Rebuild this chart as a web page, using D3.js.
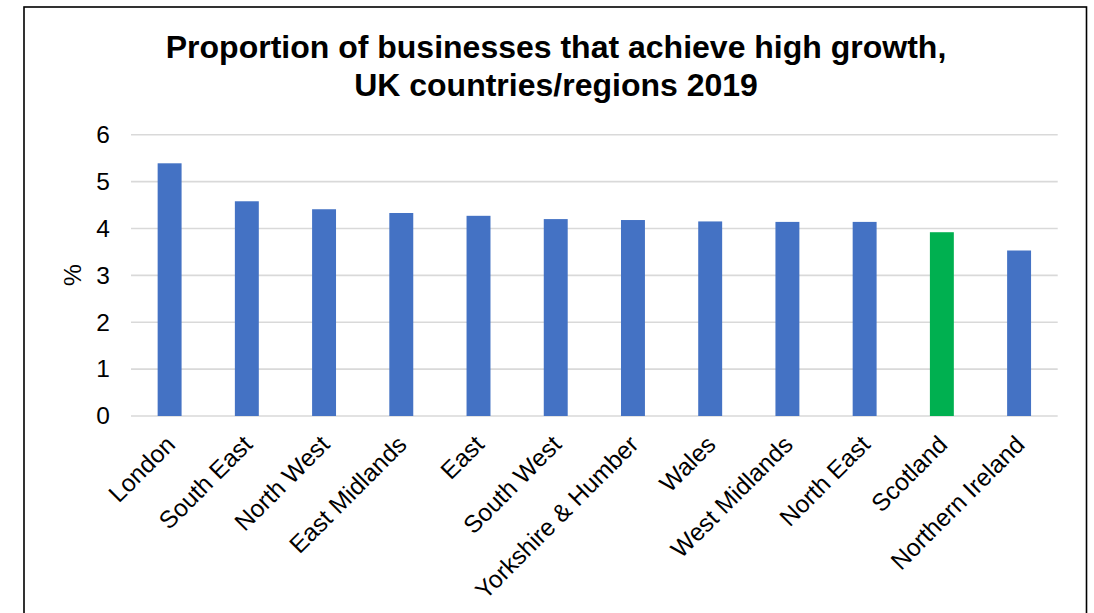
<!DOCTYPE html>
<html>
<head>
<meta charset="utf-8">
<script src="https://cdn.jsdelivr.net/npm/d3@7"></script>
<style>
  html, body { margin: 0; padding: 0; background: #fff; }
  svg { display: block; font-family: "Liberation Sans", Arial, sans-serif; }
</style>
</head>
<body>
<svg id="chart" width="1094" height="613"></svg>
<script>
// Regions, ordered by share of high-growth businesses
const regions = ["London", "South East", "North West", "East Midlands", "East", "South West",
  "Yorkshire & Humber", "Wales", "West Midlands", "North East", "Scotland", "Northern Ireland"];
const highGrowthPct = [5.39, 4.58, 4.41, 4.33, 4.27, 4.20, 4.18, 4.15, 4.14, 4.14, 3.92, 3.53];
const yTicks = [0, 1, 2, 3, 4, 5, 6];
const highlight = "Scotland";

const svg = d3.select("#chart");
const W = 1094, H = 613;
const FONT = "'Liberation Sans', Arial, sans-serif";
const LABEL_SIZE = 24.5;

// Outer frame
svg.append("rect")
  .attr("x", 24).attr("y", 7)
  .attr("width", 1062.5).attr("height", H + 10)
  .attr("fill", "#fff").attr("stroke", "#000").attr("stroke-width", 1.6);

const plot = { left: 131, right: 1057.7, top: 134.7, bottom: 416 };

const x = d3.scaleBand().domain(regions).range([plot.left, plot.right]).paddingInner(0.69).paddingOuter(0.345);
const y = d3.scaleLinear().domain([0, 6]).range([plot.bottom, plot.top]);

// Title
const title = svg.append("text")
  .attr("text-anchor", "middle")
  .attr("font-family", FONT)
  .attr("font-weight", "bold").attr("font-size", 32).attr("fill", "#000");
title.append("tspan").attr("x", 556).attr("y", 58).text("Proportion of businesses that achieve high growth,");
title.append("tspan").attr("x", 556).attr("y", 96).text("UK countries/regions 2019");

// Gridlines
svg.append("g")
  .selectAll("line").data(yTicks).join("line")
  .attr("x1", plot.left).attr("x2", plot.right)
  .attr("y1", d => y(d)).attr("y2", d => y(d))
  .attr("stroke", "#d9d9d9").attr("stroke-width", 1.6);

// Y axis
const yAxis = svg.append("g")
  .attr("transform", `translate(${plot.left},0)`)
  .call(d3.axisLeft(y).tickValues(yTicks).tickSize(0).tickPadding(21).tickFormat(d3.format("d")));
yAxis.select(".domain").remove();
yAxis.selectAll("text").attr("font-size", LABEL_SIZE).attr("fill", "#000")
  .attr("font-family", FONT);

svg.append("text")
  .attr("transform", "translate(81,275) rotate(-90)")
  .attr("text-anchor", "middle")
  .attr("font-family", FONT)
  .attr("font-size", LABEL_SIZE).attr("fill", "#000")
  .text("%");

// Bars
svg.append("g")
  .selectAll("rect").data(regions).join("rect")
  .attr("x", d => x(d))
  .attr("width", x.bandwidth())
  .attr("y", (d, i) => y(highGrowthPct[i]))
  .attr("height", (d, i) => y(0) - y(highGrowthPct[i]))
  .attr("fill", d => d === highlight ? "#00b050" : "#4472c4");

// X axis labels
const xAxis = svg.append("g")
  .attr("transform", `translate(0,${plot.bottom})`)
  .call(d3.axisBottom(x).tickSize(0).tickPadding(0));
xAxis.select(".domain").remove();
xAxis.selectAll("text")
  .attr("font-size", LABEL_SIZE).attr("fill", "#000")
  .attr("font-family", FONT)
  .attr("text-anchor", "end")
  .attr("dy", null).attr("y", 0)
  .attr("transform", "translate(7,30) rotate(-45)");
</script>
</body>
</html>
